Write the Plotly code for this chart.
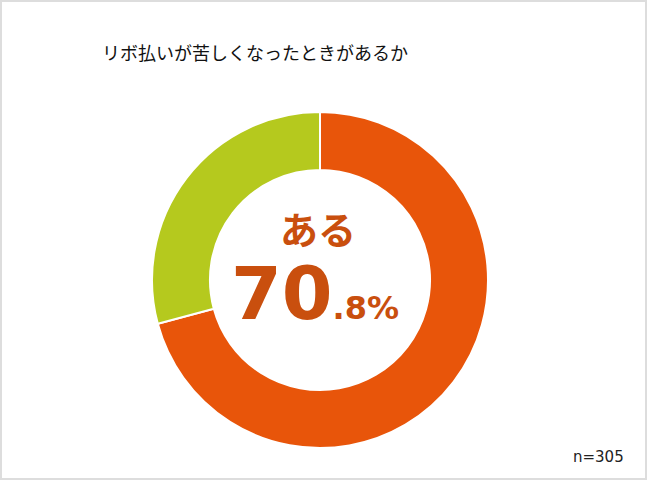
import plotly.graph_objects as go

labels = ["ある", "ない"]
values = [70.8, 29.2]
colors = ["#E8550A", "#B5C91E"]
title_text = "リボ払いが苦しくなったときがあるか"
center_label = "ある"
center_big = "70"
center_small = ".8%"
n_text = "n=305"

W, H = 647, 480
fig = go.Figure(go.Pie(
    labels=labels, values=values, hole=0.655, sort=False,
    direction="clockwise", rotation=0,
    marker=dict(colors=colors, line=dict(color="white", width=2)),
    textinfo="none", hoverinfo="label+percent", showlegend=False,
    domain=dict(x=[152/W, 488/W], y=[(H-448)/H, (H-112)/H]),
))

jp = "Noto Sans CJK JP"
txtc = "#C94F0E"
fig.add_annotation(text=title_text, x=100/W, y=1-52/H, xref="paper", yref="paper",
                   xanchor="left", yanchor="middle", showarrow=False,
                   font=dict(family=jp, size=18, color="#111111"))
fig.add_annotation(text="<b>"+center_label+"</b>", x=318/W, y=1-227/H, xref="paper", yref="paper",
                   xanchor="center", yanchor="middle", showarrow=False,
                   font=dict(family=jp, size=38, color=txtc))
fig.add_annotation(
    text="<b><span style='font-size:73px'>"+center_big+"</span><span style='font-size:32px'>"+center_small+"</span></b>",
    x=315/W, y=1-293/H, xref="paper", yref="paper",
    xanchor="center", yanchor="middle", showarrow=False,
    font=dict(family="DejaVu Sans", size=32, color=txtc))
fig.add_annotation(text=n_text, x=626/W, y=1-457/H, xref="paper", yref="paper",
                   xanchor="right", yanchor="middle", showarrow=False,
                   font=dict(family="DejaVu Sans", size=15, color="#222222"))

fig.add_shape(type="rect", xref="paper", yref="paper", x0=1/W, x1=1-1/W, y0=1/H, y1=1-1/H,
              line=dict(color="#DDDDDD", width=2), fillcolor="rgba(0,0,0,0)", layer="above")

fig.update_layout(width=W, height=H, margin=dict(l=0, r=0, t=0, b=0),
                  paper_bgcolor="white", plot_bgcolor="white")
fig.write_html("out.html", config={"displayModeBar": False},
               post_script="document.body.style.margin='0';")
